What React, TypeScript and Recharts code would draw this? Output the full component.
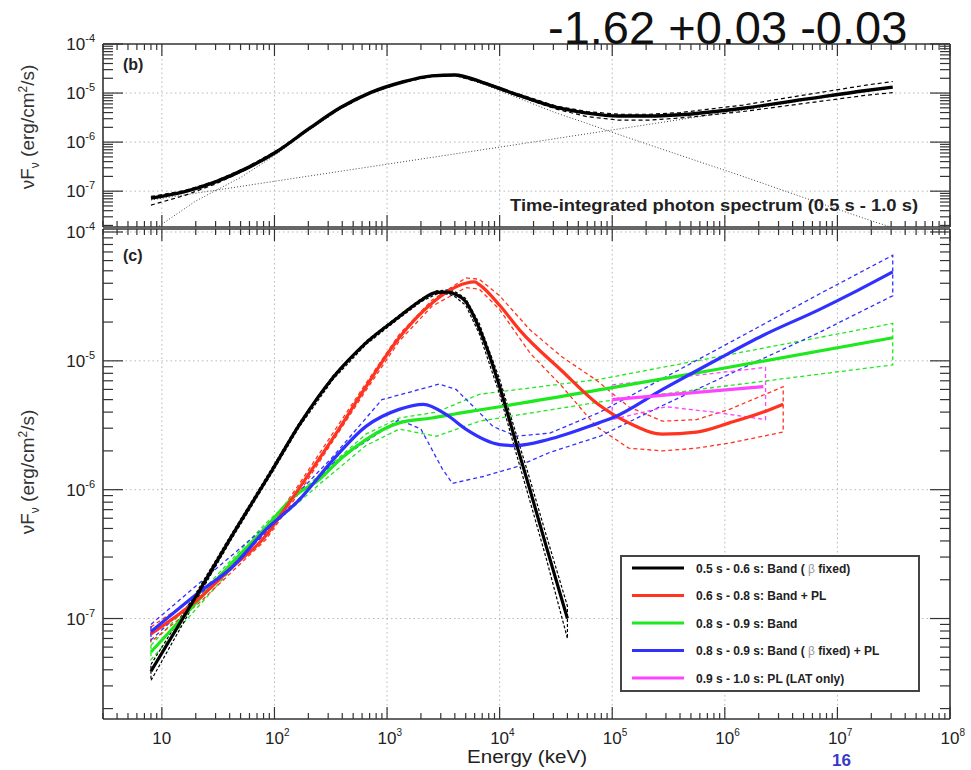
import React from 'react'
import { LineChart, Line, XAxis, YAxis, ReferenceLine } from 'recharts'

type Pt = { e: number; f: number }

const FONT = '"Liberation Sans", Arial, sans-serif'
const FRAME = '#333'
const GRID = '#b8b8b8'
const BLACK = '#000000'
const RED = '#ff3320'
const GREEN = '#1ee81e'
const BLUE = '#3030ff'
const MAGENTA = '#ff44ff'

// axes
const X_DOMAIN: [number, number] = [3, 1e8]
const X_GRID = [10, 100, 1e3, 1e4, 1e5, 1e6, 1e7]
const TOP_Y_DOMAIN: [number, number] = [1.86e-8, 1e-4]
const TOP_Y_GRID = [1e-7, 1e-6, 1e-5]
const BOT_Y_DOMAIN: [number, number] = [1.66e-8, 1.055e-4]
const BOT_Y_GRID = [1e-7, 1e-6, 1e-5, 1e-4]

// ---- panel (b): time-integrated spectrum, energy in keV, nuFnu in erg/cm2/s
const totE = [8, 16, 30, 57, 107, 204, 383, 720, 1350, 2500, 4000, 7000, 13000, 32000, 60000, 114000, 215000, 400000, 1.45e6, 5.2e6, 1.8e7, 3.1e7]
const totF = [7.2e-8, 9.8e-8, 1.55e-7, 2.95e-7, 6.6e-7, 1.9e-6, 5.0e-6, 1.03e-5, 1.66e-5, 2.24e-5, 2.34e-5, 1.66e-5, 1.0e-5, 5.1e-6, 3.9e-6, 3.4e-6, 3.4e-6, 3.6e-6, 4.9e-6, 7.5e-6, 1.13e-5, 1.32e-5]
const totUp = [7.8e-8, 1.03e-7, 1.62e-7, 3.1e-7, 6.9e-7, 1.97e-6, 5.2e-6, 1.06e-5, 1.7e-5, 2.3e-5, 2.4e-5, 1.72e-5, 1.05e-5, 5.4e-6, 4.2e-6, 3.7e-6, 3.7e-6, 4.0e-6, 5.7e-6, 9.2e-6, 1.45e-5, 1.72e-5]
const totLo = [5.2e-8, 8.2e-8, 1.4e-7, 2.8e-7, 6.3e-7, 1.84e-6, 4.8e-6, 1.0e-5, 1.62e-5, 2.18e-5, 2.28e-5, 1.6e-5, 9.5e-6, 4.7e-6, 3.3e-6, 2.8e-6, 2.8e-6, 3.1e-6, 4.2e-6, 6.2e-6, 9.0e-6, 1.02e-5]
const plE = [8, 1e4, 3.1e7]
const plF = [6.6e-8, 7.9e-7, 1.32e-5]
const bandE = [9, 20, 50, 100, 200, 383, 720, 1350, 2500, 4000, 7000, 13000, 32000, 60000, 95000, 400000, 1.45e6, 5.2e6, 1.8e7, 3.1e7]
const bandF = [1.8e-8, 6.3e-8, 1.9e-7, 5.3e-7, 1.7e-6, 4.7e-6, 1.0e-5, 1.62e-5, 2.2e-5, 2.3e-5, 1.55e-5, 8.8e-6, 3.9e-6, 2.4e-6, 1.65e-6, 5.4e-7, 2.0e-7, 7.2e-8, 2.7e-8, 1.8e-8]

// ---- panel (c): time-resolved fits
const blackE = [8, 21, 42, 95, 165, 330, 650, 1280, 2000, 2750, 3500, 4000, 5000, 6600, 10000, 13600, 18700, 26000, 40000]
const blackF = [3.9e-8, 1.58e-7, 4.4e-7, 1.41e-6, 3.16e-6, 7.4e-6, 1.38e-5, 2.2e-5, 2.95e-5, 3.4e-5, 3.42e-5, 3.3e-5, 2.88e-5, 1.78e-5, 6.3e-6, 2.51e-6, 9.8e-7, 3.6e-7, 1.0e-7]
const blackUp = [4.4e-8, 1.68e-7, 4.6e-7, 1.47e-6, 3.28e-6, 7.65e-6, 1.42e-5, 2.26e-5, 3.03e-5, 3.5e-5, 3.55e-5, 3.45e-5, 3.05e-5, 1.95e-5, 7.2e-6, 2.95e-6, 1.18e-6, 4.4e-7, 1.25e-7]
const blackLo = [3.3e-8, 1.48e-7, 4.2e-7, 1.35e-6, 3.04e-6, 7.15e-6, 1.34e-5, 2.14e-5, 2.87e-5, 3.3e-5, 3.3e-5, 3.15e-5, 2.7e-5, 1.62e-5, 5.5e-6, 2.1e-6, 8.0e-7, 2.9e-7, 7.0e-8]

const redE = [8, 21, 42, 84, 117, 165, 250, 330, 650, 1280, 2500, 5000, 6000, 6600, 10000, 15000, 36000, 75000, 140000, 280000, 560000, 1.1e6, 2.2e6, 3.3e6]
const redF = [7.6e-8, 1.41e-7, 2.5e-7, 4.4e-7, 6.6e-7, 1.02e-6, 1.74e-6, 2.5e-6, 6.3e-6, 1.51e-5, 2.8e-5, 4.0e-5, 4.1e-5, 3.9e-5, 2.7e-5, 1.74e-5, 8.3e-6, 4.6e-6, 3.3e-6, 2.7e-6, 2.8e-6, 3.3e-6, 4.0e-6, 4.6e-6]
const redBandE = [8, 21, 84, 165, 650, 1280, 2500, 5000, 6600, 10000, 18600, 36000, 72000, 140000, 280000, 560000, 1.1e6, 3.3e6]
const redUp = [8.6e-8, 1.52e-7, 4.7e-7, 1.1e-6, 6.7e-6, 1.6e-5, 2.95e-5, 4.4e-5, 4.3e-5, 3.2e-5, 1.74e-5, 1.07e-5, 7.1e-6, 4.4e-6, 3.4e-6, 3.5e-6, 4.2e-6, 6.3e-6]
const redLo = [6.6e-8, 1.3e-7, 4.1e-7, 9.4e-7, 5.9e-6, 1.42e-5, 2.65e-5, 3.7e-5, 3.6e-5, 2.5e-5, 1.15e-5, 6.3e-6, 3.1e-6, 2.1e-6, 2.0e-6, 2.1e-6, 2.3e-6, 2.8e-6]

const greenE = [8, 21, 42, 84, 150, 250, 400, 650, 1280, 2500, 5000, 10000, 100000, 1e6, 3.1e7]
const greenF = [5.5e-8, 1.38e-7, 2.7e-7, 5.1e-7, 8.9e-7, 1.2e-6, 1.78e-6, 2.45e-6, 3.3e-6, 3.6e-6, 4.0e-6, 4.4e-6, 6.2e-6, 8.8e-6, 1.51e-5]
const greenBandE = [8, 84, 250, 650, 1280, 2750, 6600, 78000, 3.1e7]
const greenUp = [6.2e-8, 5.5e-7, 1.3e-6, 2.7e-6, 3.6e-6, 4.0e-6, 5.5e-6, 7.2e-6, 1.95e-5]
const greenLo = [4.8e-8, 4.8e-7, 1.1e-6, 2.2e-6, 2.95e-6, 2.6e-6, 3.4e-6, 4.8e-6, 9.3e-6]

const blueE = [8, 21, 42, 84, 165, 330, 650, 1280, 2100, 3400, 5000, 10000, 14000, 27000, 76000, 100000, 280000, 850000, 2.2e6, 6.9e6, 1.4e7, 3.1e7]
const blueF = [7.9e-8, 1.58e-7, 2.5e-7, 4.9e-7, 8.3e-7, 1.7e-6, 3.1e-6, 4.2e-6, 4.6e-6, 3.8e-6, 2.95e-6, 2.24e-6, 2.2e-6, 2.45e-6, 3.3e-6, 3.6e-6, 6.0e-6, 1.02e-5, 1.58e-5, 2.5e-5, 3.4e-5, 4.9e-5]
const blueUpE = [8, 84, 330, 900, 1950, 2900, 4100, 6200, 8700, 14000, 28000, 78000, 400000, 1.6e6, 6.9e6, 3.1e7]
const blueUp = [9.0e-8, 5.2e-7, 1.8e-6, 5.0e-6, 6.0e-6, 6.6e-6, 6.0e-6, 4.2e-6, 3.1e-6, 2.6e-6, 2.75e-6, 4.0e-6, 8.6e-6, 1.65e-5, 3.3e-5, 6.6e-5]
const blueLoE = [8, 84, 330, 1280, 2000, 3100, 3800, 7000, 14000, 28000, 78000, 280000, 850000, 6.9e6, 3.1e7]
const blueLo = [6.8e-8, 4.6e-7, 1.6e-6, 3.5e-6, 2.95e-6, 1.45e-6, 1.12e-6, 1.26e-6, 1.5e-6, 1.95e-6, 2.6e-6, 4.5e-6, 7.1e-6, 1.66e-5, 3.2e-5]

const magE = [1e5, 2.2e6]
const magF = [5.0e-6, 6.3e-6]
const magUpE = [1e5, 2.3e6]
const magUp = [6.5e-6, 8.9e-6]
const magLoE = [1e5, 3e5, 8e5, 2.3e6]
const magLo = [3.5e-6, 4.4e-6, 4.0e-6, 3.5e-6]

const legendLabels = [
  ['0.5 s - 0.6 s: Band ( ', 'β', ' fixed)'],
  ['0.6 s - 0.8 s: Band + PL', '', ''],
  ['0.8 s - 0.9 s: Band', '', ''],
  ['0.8 s - 0.9 s: Band ( ', 'β', ' fixed) + PL'],
  ['0.9 s - 1.0 s: PL (LAT only)', '', ''],
]
const legendColors = [BLACK, RED, GREEN, BLUE, MAGENTA]

function pts(E: number[], F: number[]): Pt[] {
  return E.map((e, i) => ({ e, f: F[i] }))
}

function contour(upE: number[], up: number[], loE: number[], lo: number[]): Pt[] {
  const a = pts(upE, up)
  const b = pts(loE, lo).reverse()
  return [...a, ...b, a[0]]
}

function logTicks([lo, hi]: [number, number]): number[] {
  const out: number[] = []
  for (let p = Math.floor(Math.log10(lo)); p <= Math.ceil(Math.log10(hi)); p++) {
    for (let m = 1; m < 10; m++) {
      const v = Number((m * Math.pow(10, p)).toPrecision(6))
      if (v >= lo && v <= hi) out.push(v)
    }
  }
  return out
}

function isMajor(v: number) {
  const l = Math.log10(v)
  return Math.abs(l - Math.round(l)) < 1e-6
}

function XTick(props: any) {
  const { x, y, payload, side, label } = props
  const v = payload?.value
  const major = isMajor(v)
  const len = major ? 12 : 6
  const d = side === 'bottom' ? -1 : 1
  const p = Math.round(Math.log10(v))
  return (
    <g>
      <line x1={x} y1={y} x2={x} y2={y + d * len} stroke={FRAME} strokeWidth={1.2} />
      {label && major ? (
        <text x={x - 9.5} y={y + 25} fontSize={17} fill="#222" fontFamily={FONT}>
          10{p !== 1 ? <tspan dy={-8} fontSize={10}>{p}</tspan> : null}
        </text>
      ) : null}
    </g>
  )
}

function YTick(props: any) {
  const { x, y, payload, side, label } = props
  const v = payload?.value
  const major = isMajor(v)
  const len = major ? 20 : 10
  const d = side === 'left' ? 1 : -1
  const p = Math.round(Math.log10(v))
  return (
    <g>
      <line x1={x} y1={y} x2={x + d * len} y2={y} stroke={FRAME} strokeWidth={1.2} />
      {label && major ? (
        <text x={x - 8} y={y + 6} textAnchor="end" fontSize={17} fill="#222" fontFamily={FONT}>
          10<tspan dy={-8} fontSize={11}>{p}</tspan>
        </text>
      ) : null}
    </g>
  )
}

const xTicks = logTicks(X_DOMAIN)
const axisLine = { stroke: FRAME, strokeWidth: 1.6 }

function FrameAxes(yDomain: [number, number], xLabels: boolean) {
  const yTicks = logTicks(yDomain)
  return [
    <XAxis key="xb" type="number" dataKey="e" scale="log" domain={X_DOMAIN} allowDataOverflow ticks={xTicks} interval={0}
      tickSize={0} tickMargin={0} height={1} axisLine={axisLine} tickLine={false}
      tick={(p: any) => <XTick {...p} side="bottom" label={xLabels} />} />,
    <XAxis key="xt" xAxisId="top" orientation="top" type="number" dataKey="e" scale="log" domain={X_DOMAIN} allowDataOverflow ticks={xTicks} interval={0}
      tickSize={0} tickMargin={0} height={1} axisLine={axisLine} tickLine={false}
      tick={(p: any) => <XTick {...p} side="top" />} />,
    <YAxis key="yl" type="number" dataKey="f" scale="log" domain={yDomain} allowDataOverflow ticks={yTicks} interval={0}
      tickSize={0} tickMargin={0} width={50} axisLine={axisLine} tickLine={false}
      tick={(p: any) => <YTick {...p} side="left" label />} />,
    <YAxis key="yr" yAxisId="right" orientation="right" type="number" dataKey="f" scale="log" domain={yDomain} allowDataOverflow ticks={yTicks} interval={0}
      tickSize={0} tickMargin={0} width={1} axisLine={axisLine} tickLine={false}
      tick={(p: any) => <YTick {...p} side="right" />} />,
  ]
}

function gridLines(yGrid: number[]) {
  return [
    ...X_GRID.map((v) => <ReferenceLine key={'gx' + v} x={v} stroke={GRID} strokeDasharray="1.5 3" />),
    ...yGrid.map((v) => <ReferenceLine key={'gy' + v} y={v} stroke={GRID} strokeDasharray="1.5 3" />),
  ]
}

function solid(key: string, data: Pt[], color: string, w = 3.2) {
  return <Line key={key} data={data} dataKey="f" type="monotone" stroke={color} strokeWidth={w} dot={false} isAnimationActive={false} />
}

function dashed(key: string, data: Pt[], color: string, dash = '4 3', w = 1.3) {
  return <Line key={key} data={data} dataKey="f" type="linear" stroke={color} strokeWidth={w} strokeDasharray={dash} dot={false} isAnimationActive={false} />
}

export default function App() {
  return (
    <div style={{ position: 'absolute', left: 0, top: 0, width: 971, height: 770, overflow: 'hidden', background: '#fff', fontFamily: FONT }}>
      <div style={{ position: 'absolute', left: 0, top: 0 }}>
        <LineChart width={971} height={240} margin={{ top: 43, right: 20, bottom: 12, left: 53 }}>
          {FrameAxes(TOP_Y_DOMAIN, false)}
          {gridLines(TOP_Y_GRID)}
          {dashed('pl', pts(plE, plF), '#444', '1 2', 1)}
          {dashed('band', pts(bandE, bandF), '#444', '1 2', 1)}
          {dashed('tu', pts(totE, totUp), BLACK, '4 3', 1.2)}
          {dashed('tl', pts(totE, totLo), BLACK, '4 3', 1.2)}
          {solid('tot', pts(totE, totF), BLACK, 3.4)}
        </LineChart>
      </div>
      <div style={{ position: 'absolute', left: 0, top: 200 }}>
        <LineChart width={971} height={570} margin={{ top: 28, right: 20, bottom: 50, left: 53 }}>
          {FrameAxes(BOT_Y_DOMAIN, true)}
          {gridLines(BOT_Y_GRID)}
          {dashed('gc', contour(greenBandE, greenUp, greenBandE, greenLo), GREEN)}
          {dashed('rc', contour(redBandE, redUp, redBandE, redLo), RED)}
          {dashed('bc', contour(blueUpE, blueUp, blueLoE, blueLo), BLUE)}
          {dashed('mc', contour(magUpE, magUp, magLoE, magLo), MAGENTA)}
          {dashed('kc', contour(blackE, blackUp, blackE, blackLo), BLACK, '3 2', 1.2)}
          {solid('green', pts(greenE, greenF), GREEN)}
          {solid('red', pts(redE, redF), RED)}
          {solid('blue', pts(blueE, blueF), BLUE)}
          {solid('mag', pts(magE, magF), MAGENTA)}
          {solid('black', pts(blackE, blackF), BLACK)}
        </LineChart>
      </div>
      <svg width={971} height={770} style={{ position: 'absolute', left: 0, top: 0, pointerEvents: 'none' }} fontFamily={FONT}>
        <text x={548} y={44} fontSize={47} fill="#111">-1.62 +0.03 -0.03</text>
        <text x={123} y={70} fontSize={16} fontWeight="bold" fill="#222">(b)</text>
        <text x={123} y={261} fontSize={16} fontWeight="bold" fill="#222">(c)</text>
        <text x={510} y={211} fontSize={16} fontWeight="bold" fill="#222" textLength={408} lengthAdjust="spacingAndGlyphs">
          Time-integrated photon spectrum (0.5 s - 1.0 s)
        </text>
        <text x={527} y={763} fontSize={18} fill="#222" textAnchor="middle" textLength={120} lengthAdjust="spacingAndGlyphs">Energy (keV)</text>
        <text x={832} y={766} fontSize={17} fontWeight="bold" fill="#3838cc">16</text>
        {[127, 472].map((cy) => (
          <text key={cy} x={34} y={cy} transform={`rotate(-90 34 ${cy})`} textAnchor="middle" fontSize={19} fill="#333">
            νF<tspan dy={5} fontSize={12}>ν</tspan><tspan dy={-5}> (erg/cm</tspan><tspan dy={-7} fontSize={12}>2</tspan><tspan dy={7}>/s)</tspan>
          </text>
        ))}
        <rect x={621} y={556} width={298} height={135} fill="#fff" stroke="#444" strokeWidth={2} />
        {legendLabels.map((lab, i) => {
          const cy = 568 + i * 27.5
          return (
            <g key={i}>
              <line x1={632} x2={684} y1={cy} y2={cy} stroke={legendColors[i]} strokeWidth={3} />
              <text x={696} y={cy + 4.5} fontSize={12} fontWeight="bold" fill="#222">
                {lab[0]}
                {lab[1] ? <tspan fill="#999" fontWeight="normal">{lab[1]}</tspan> : null}
                {lab[2]}
              </text>
            </g>
          )
        })}
      </svg>
    </div>
  )
}
